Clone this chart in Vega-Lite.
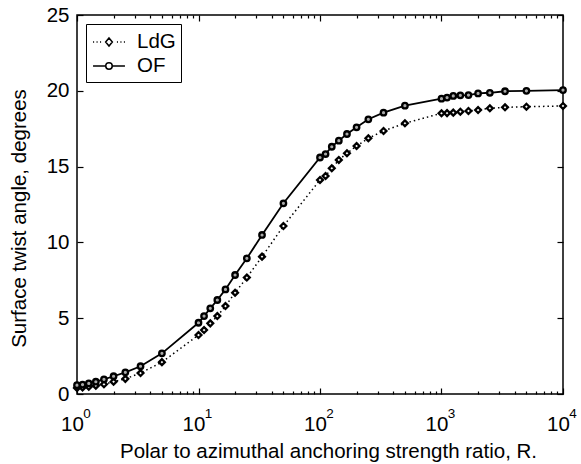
{
  "$schema": "https://vega.github.io/schema/vega-lite/v6.json",
  "width": 486,
  "height": 379,
  "autosize": {"type": "none"},
  "padding": {"left": 77, "top": 15, "right": 18, "bottom": 70},
  "background": "white",
  "data": {
    "values": [
      {"R": 1, "model": "OF", "angle": 0.58}, {"R": 1.111, "model": "OF", "angle": 0.62}, {"R": 1.25, "model": "OF", "angle": 0.7}, {"R": 1.429, "model": "OF", "angle": 0.81}, {"R": 1.667, "model": "OF", "angle": 0.97}, {"R": 2, "model": "OF", "angle": 1.17}, {"R": 2.5, "model": "OF", "angle": 1.43}, {"R": 3.333, "model": "OF", "angle": 1.83}, {"R": 5, "model": "OF", "angle": 2.68},
      {"R": 10, "model": "OF", "angle": 4.7}, {"R": 11.11, "model": "OF", "angle": 5.14}, {"R": 12.5, "model": "OF", "angle": 5.65}, {"R": 14.29, "model": "OF", "angle": 6.2}, {"R": 16.67, "model": "OF", "angle": 6.9}, {"R": 20, "model": "OF", "angle": 7.85}, {"R": 25, "model": "OF", "angle": 8.95}, {"R": 33.33, "model": "OF", "angle": 10.49}, {"R": 50, "model": "OF", "angle": 12.58},
      {"R": 100, "model": "OF", "angle": 15.6}, {"R": 111.1, "model": "OF", "angle": 15.83}, {"R": 125, "model": "OF", "angle": 16.31}, {"R": 142.9, "model": "OF", "angle": 16.71}, {"R": 166.7, "model": "OF", "angle": 17.15}, {"R": 200, "model": "OF", "angle": 17.59}, {"R": 250, "model": "OF", "angle": 18.12}, {"R": 333.3, "model": "OF", "angle": 18.56}, {"R": 500, "model": "OF", "angle": 19.02},
      {"R": 1000, "model": "OF", "angle": 19.48}, {"R": 1111, "model": "OF", "angle": 19.55}, {"R": 1250, "model": "OF", "angle": 19.66}, {"R": 1429, "model": "OF", "angle": 19.7}, {"R": 1667, "model": "OF", "angle": 19.72}, {"R": 2000, "model": "OF", "angle": 19.83}, {"R": 2500, "model": "OF", "angle": 19.87}, {"R": 3333, "model": "OF", "angle": 19.97}, {"R": 5000, "model": "OF", "angle": 20.0}, {"R": 10000, "model": "OF", "angle": 20.05},
      {"R": 1, "model": "LdG", "angle": 0.4}, {"R": 1.111, "model": "LdG", "angle": 0.43}, {"R": 1.25, "model": "LdG", "angle": 0.48}, {"R": 1.429, "model": "LdG", "angle": 0.55}, {"R": 1.667, "model": "LdG", "angle": 0.64}, {"R": 2, "model": "LdG", "angle": 0.81}, {"R": 2.5, "model": "LdG", "angle": 1.0}, {"R": 3.333, "model": "LdG", "angle": 1.38}, {"R": 5, "model": "LdG", "angle": 2.1},
      {"R": 10, "model": "LdG", "angle": 3.89}, {"R": 11.11, "model": "LdG", "angle": 4.22}, {"R": 12.5, "model": "LdG", "angle": 4.66}, {"R": 14.29, "model": "LdG", "angle": 5.14}, {"R": 16.67, "model": "LdG", "angle": 5.8}, {"R": 20, "model": "LdG", "angle": 6.68}, {"R": 25, "model": "LdG", "angle": 7.68}, {"R": 33.33, "model": "LdG", "angle": 9.06}, {"R": 50, "model": "LdG", "angle": 11.08},
      {"R": 100, "model": "LdG", "angle": 14.12}, {"R": 111.1, "model": "LdG", "angle": 14.38}, {"R": 125, "model": "LdG", "angle": 14.89}, {"R": 142.9, "model": "LdG", "angle": 15.44}, {"R": 166.7, "model": "LdG", "angle": 15.88}, {"R": 200, "model": "LdG", "angle": 16.36}, {"R": 250, "model": "LdG", "angle": 16.87}, {"R": 333.3, "model": "LdG", "angle": 17.35}, {"R": 500, "model": "LdG", "angle": 17.86},
      {"R": 1000, "model": "LdG", "angle": 18.52}, {"R": 1111, "model": "LdG", "angle": 18.53}, {"R": 1250, "model": "LdG", "angle": 18.56}, {"R": 1429, "model": "LdG", "angle": 18.62}, {"R": 1667, "model": "LdG", "angle": 18.67}, {"R": 2000, "model": "LdG", "angle": 18.73}, {"R": 2500, "model": "LdG", "angle": 18.85}, {"R": 3333, "model": "LdG", "angle": 18.91}, {"R": 5000, "model": "LdG", "angle": 18.95}, {"R": 10000, "model": "LdG", "angle": 19.0}
    ]
  },
  "layer": [
    {
      "transform": [{"filter": "datum.model === 'OF'"}],
      "mark": {"type": "line", "color": "black", "strokeWidth": 1.8},
      "encoding": {
        "x": {"field": "R", "type": "quantitative", "scale": {"type": "log", "domain": [1, 10000], "nice": false},
          "axis": {"orient": "bottom", "values": [1, 10, 100, 1000, 10000], "labelExpr": "'10'", "tickSize": -6, "labelPadding": 26, "labelOffset": -5, "labelFlush": false,
            "title": "Polar to azimuthal anchoring strength ratio, R.", "titlePadding": 7, "titleX": 251}},
        "y": {"field": "angle", "type": "quantitative", "scale": {"domain": [0, 25], "nice": false},
          "axis": {"orient": "left", "values": [0, 5, 10, 15, 20, 25], "tickSize": -6, "labelPadding": 14, "labelFlush": false,
            "title": "Surface twist angle, degrees", "titlePadding": 17, "titleY": 203}}
      }
    },
    {
      "transform": [{"filter": "datum.model === 'LdG'"}],
      "mark": {"type": "line", "color": "black", "strokeWidth": 1.5, "strokeDash": [1.5, 3]},
      "encoding": {
        "x": {"field": "R", "type": "quantitative", "axis": null},
        "y": {"field": "angle", "type": "quantitative", "axis": null}
      }
    },
    {
      "transform": [{"filter": "datum.model === 'LdG'"}],
      "mark": {"type": "point", "shape": "diamond", "size": 34, "filled": true, "fill": "white", "stroke": "black", "strokeWidth": 2.3, "opacity": 1},
      "encoding": {
        "x": {"field": "R", "type": "quantitative", "axis": null},
        "y": {"field": "angle", "type": "quantitative", "axis": null}
      }
    },
    {
      "transform": [{"filter": "datum.model === 'OF'"}],
      "mark": {"type": "point", "shape": "circle", "size": 30, "filled": true, "fill": "#aaaaaa", "stroke": "black", "strokeWidth": 2.3, "opacity": 1},
      "encoding": {
        "x": {"field": "R", "type": "quantitative", "axis": null},
        "y": {"field": "angle", "type": "quantitative", "axis": null}
      }
    },
    {
      "mark": {"type": "point", "opacity": 0, "color": "black"},
      "encoding": {
        "x": {"field": "R", "type": "quantitative", "axis": null},
        "y": {"field": "angle", "type": "quantitative", "axis": null},
        "shape": {"field": "model", "type": "nominal",
          "scale": {"domain": ["LdG", "OF"], "range": [
            "M-1.33,0L-1.24,0M-1.04,0L-0.95,0M-0.75,0L-0.66,0M0.66,0L0.75,0M0.95,0L1.04,0M1.24,0L1.33,0M0,-0.34L0.28,0L0,0.34L-0.28,0Z",
            "M-1.33,0L-0.27,0M0.27,0L1.33,0M0.27,0A0.27,0.27 0 1,1 -0.27,0A0.27,0.27 0 1,1 0.27,0Z"
          ]},
          "legend": {"title": null, "orient": "top-left", "offset": 9, "padding": 5, "strokeColor": "black",
            "symbolSize": 576, "symbolOffset": 5, "labelFontSize": 20.5, "labelFont": "Liberation Sans", "labelColor": "black", "rowPadding": 0, "labelOffset": 15,
            "encode": {"symbols": {"update": {"opacity": {"value": 1}, "stroke": {"value": "black"}, "fill": {"value": "#aaaaaa"}, "strokeWidth": {"value": 2}}}}}
        }
      }
    },
    {
      "mark": {"type": "point", "opacity": 0},
      "encoding": {
        "x": {"field": "R", "type": "quantitative",
          "axis": {"orient": "bottom", "values": [2,3,4,5,6,7,8,9,20,30,40,50,60,70,80,90,200,300,400,500,600,700,800,900,2000,3000,4000,5000,6000,7000,8000,9000], "labels": false, "tickSize": -3, "title": null}},
        "y": {"field": "angle", "type": "quantitative", "axis": {"orient": "right", "values": [0, 5, 10, 15, 20, 25], "tickSize": -6, "labels": false, "title": null}}
      }
    },
    {
      "mark": {"type": "point", "opacity": 0},
      "encoding": {
        "x": {"field": "R", "type": "quantitative",
          "axis": {"orient": "top", "values": [1, 10, 100, 1000, 10000], "labels": false, "tickSize": -6, "title": null}},
        "y": {"field": "angle", "type": "quantitative", "axis": null}
      }
    },
    {
      "mark": {"type": "point", "opacity": 0},
      "encoding": {
        "x": {"field": "R", "type": "quantitative",
          "axis": {"orient": "top", "values": [2,3,4,5,6,7,8,9,20,30,40,50,60,70,80,90,200,300,400,500,600,700,800,900,2000,3000,4000,5000,6000,7000,8000,9000], "labels": false, "tickSize": -3, "title": null}},
        "y": {"field": "angle", "type": "quantitative", "axis": null}
      }
    },
    {
      "mark": {"type": "point", "opacity": 0},
      "encoding": {
        "x": {"field": "R", "type": "quantitative",
          "axis": {"orient": "bottom", "values": [1, 10, 100, 1000, 10000], "ticks": false, "labelExpr": "'' + round(log(datum.value) / LN10)", "labelFontSize": 13.5, "labelPadding": 12, "labelOffset": 9.5, "labelFlush": false, "title": null}},
        "y": {"field": "angle", "type": "quantitative", "axis": null}
      }
    }
  ],
  "resolve": {"axis": {"x": "independent", "y": "independent"}},
  "config": {
    "view": {"stroke": "black", "strokeWidth": 1.5},
    "axis": {"domain": false, "grid": false, "labelFont": "Liberation Sans", "labelFontSize": 20.5, "labelColor": "black", "tickColor": "black", "tickWidth": 1.2,
      "titleFont": "Liberation Sans", "titleFontSize": 20.5, "titleFontWeight": "normal", "titleColor": "black"},
    "legend": {"fillColor": "white"}
  }
}
